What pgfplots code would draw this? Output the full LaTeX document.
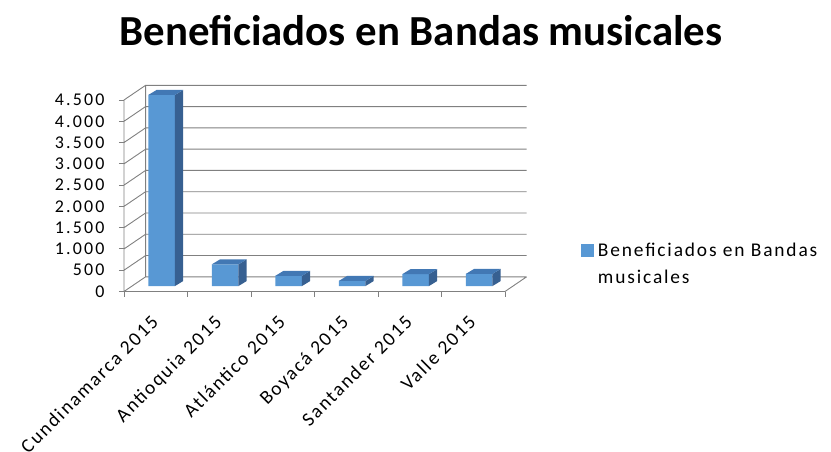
\documentclass[border=0pt]{standalone}
\usepackage{fontspec}
\setmainfont{Carlito}
\newfontfamily\lblfont[LetterSpace=9.5]{Carlito}
\newfontfamily\numfont[LetterSpace=12]{Carlito}
\usepackage{pgfplots}
\pgfplotsset{compat=1.18}

\definecolor{barfront}{RGB}{88,152,212}
\definecolor{barside}{RGB}{55,96,145}
\definecolor{bartop}{RGB}{66,120,180}
\definecolor{wallgray}{RGB}{128,128,128}

\begin{document}
\begin{tikzpicture}[x=1bp,y=1bp]
\begin{axis}[
    at={(124bp,160.5bp)}, anchor=south west,
    scale only axis, width=406.4bp, height=206.4bp,
    xmin=-0.5, xmax=5.9, ymin=0, ymax=4850,
    clip=false,
    axis lines*=left,
    axis line style={draw=none},
    tick align=outside,
    major tick length=5bp,
    tick style={wallgray, line width=0.9bp},
    ytick={0,500,...,4500},
    yticklabels={0,500,1.000,1.500,2.000,2.500,3.000,3.500,4.000,4.500},
    yticklabel style={font=\numfont\fontsize{18}{18}\selectfont, xshift=-11bp},
    xtick={-0.5,0.5,...,5.5},
    x tick label as interval,
    xticklabels={Cundinamarca 2015, Antioquia 2015, Atlántico 2015, Boyacá 2015, Santander 2015, Valle 2015},
    xticklabel style={font=\lblfont\fontsize{19.5}{19.5}\selectfont, inner sep=1bp,
        xshift=-6bp, yshift=-16bp, rotate=45, anchor=north east},
    legend style={draw=none, fill=none, inner sep=0pt, column sep=2bp,
        at={(1.124,0.245)}, anchor=north west,
        cells={anchor=base west},
        font=\lblfont\fontsize{19.5}{26.6}\selectfont},
    legend image code/.code={\fill[#1] (0bp,0bp) rectangle (13bp,13bp);},
]
% walls and floor
\addplot[wallgray, line width=0.9bp, forget plot, empty line=jump] coordinates {
    (-0.16,345) (5.84,345)

    (-0.16,845) (5.84,845)

    (-0.16,1345) (5.84,1345)

    (-0.16,1845) (5.84,1845)

    (-0.16,2345) (5.84,2345)

    (-0.16,2845) (5.84,2845)

    (-0.16,3345) (5.84,3345)

    (-0.16,3845) (5.84,3845)

    (-0.16,4345) (5.84,4345)

    (-0.16,4845) (5.84,4845)

    (-0.5,0) (-0.16,345)

    (-0.5,500) (-0.16,845)

    (-0.5,1000) (-0.16,1345)

    (-0.5,1500) (-0.16,1845)

    (-0.5,2000) (-0.16,2345)

    (-0.5,2500) (-0.16,2845)

    (-0.5,3000) (-0.16,3345)

    (-0.5,3500) (-0.16,3845)

    (-0.5,4000) (-0.16,4345)

    (-0.5,4500) (-0.16,4845)

    (-0.5,0) (-0.5,4500)

    (-0.16,345) (-0.16,4845)

    (-0.5,0) (5.5,0) (5.84,345)
};

% bar fronts (values 4490, 510, 240, 120, 280, 285; base offset 128)
\addplot[fill=barfront, draw=none, empty line=jump] coordinates {
    (-0.117,128) (0.303,128) (0.303,4618) (-0.117,4618)

    (0.883,128) (1.303,128) (1.303,638) (0.883,638)

    (1.883,128) (2.303,128) (2.303,368) (1.883,368)

    (2.883,128) (3.303,128) (3.303,248) (2.883,248)

    (3.883,128) (4.303,128) (4.303,408) (3.883,408)

    (4.883,128) (5.303,128) (5.303,413) (4.883,413)
};
\addlegendentry{\parbox[t]{250bp}{Beneficiados en Bandas\\musicales}}

% bar sides
\addplot[fill=barside, draw=none, forget plot, empty line=jump] coordinates {
    (0.303,128) (0.433,246) (0.433,4736) (0.303,4618)

    (1.303,128) (1.433,246) (1.433,756) (1.303,638)

    (2.303,128) (2.433,246) (2.433,486) (2.303,368)

    (3.303,128) (3.433,246) (3.433,366) (3.303,248)

    (4.303,128) (4.433,246) (4.433,526) (4.303,408)

    (5.303,128) (5.433,246) (5.433,531) (5.303,413)
};

% bar tops
\addplot[fill=bartop, draw=none, forget plot, empty line=jump] coordinates {
    (-0.117,4618) (0.303,4618) (0.433,4736) (0.013,4736)

    (0.883,638) (1.303,638) (1.433,756) (1.013,756)

    (1.883,368) (2.303,368) (2.433,486) (2.013,486)

    (2.883,248) (3.303,248) (3.433,366) (3.013,366)

    (3.883,408) (4.303,408) (4.433,526) (4.013,526)

    (4.883,413) (5.303,413) (5.433,531) (5.013,531)
};
\end{axis}
\node[anchor=base, font=\fontsize{43}{43}\selectfont\bfseries] at (421bp,406bp) {Beneficiados en Bandas musicales};
\pgfresetboundingbox
\path[use as bounding box] (0,0) rectangle (831bp,452bp);
\end{tikzpicture}
\end{document}
